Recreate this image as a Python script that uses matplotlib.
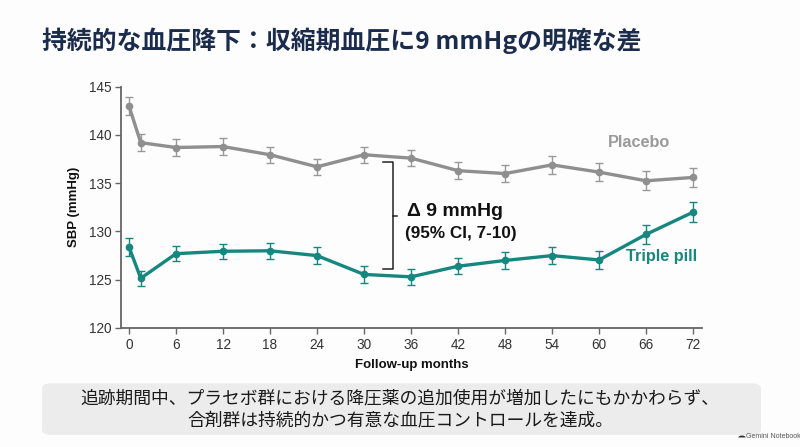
import matplotlib
matplotlib.use("Agg")
import matplotlib.pyplot as plt
from matplotlib.patches import FancyBboxPatch, Wedge

# ---- data ----
months = [0, 1.5, 6, 12, 18, 24, 30, 36, 42, 48, 54, 60, 66, 72]
xtick_vals = [0, 6, 12, 18, 24, 30, 36, 42, 48, 54, 60, 66, 72]
ytick_vals = [120, 125, 130, 135, 140, 145]
placebo = [143.0, 139.2, 138.7, 138.8, 137.95, 136.7, 137.95, 137.6, 136.3, 136.0, 136.9, 136.15, 135.25, 135.6]
placebo_err = [0.95, 0.85, 0.85, 0.9, 0.85, 0.85, 0.85, 0.85, 0.85, 0.85, 0.9, 0.9, 1.0, 1.0]
triple = [128.4, 125.15, 127.7, 127.95, 128.0, 127.5, 125.55, 125.3, 126.4, 127.0, 127.5, 127.05, 129.7, 132.0]
triple_err = [0.9, 0.8, 0.75, 0.8, 0.85, 0.85, 0.85, 0.85, 0.85, 0.85, 0.85, 0.9, 0.95, 1.05]
bracket_span = [137.2, 126.1]
bracket_x = 33.75

title = "持続的な血圧降下：収縮期血圧に9 mmHgの明確な差"
caption_lines = ["追跡期間中、プラセボ群における降圧薬の追加使用が増加したにもかかわらず、",
                 "合剤群は持続的かつ有意な血圧コントロールを達成。"]

GRAY = "#8f8f8f"
TEAL = "#15877f"
NAVY = "#1b2b4b"
LAT = ["Liberation Sans", "DejaVu Sans"]
CJK = ["Noto Sans CJK JP", "DejaVu Sans"]

fig = plt.figure(figsize=(8.0, 4.47), dpi=100)
fig.patch.set_facecolor("#fdfdfd")

ax = fig.add_axes([121/800, 1-328/447, (701.7-121)/800, (328-86.7)/447])
ax.set_facecolor("none")

ax.errorbar(months, placebo, yerr=placebo_err, color=GRAY, lw=2.4, marker="o", ms=4.5,
            ecolor="#999999", elinewidth=1.0, capsize=3, capthick=1.0, zorder=3)
ax.errorbar(months, triple, yerr=triple_err, color=TEAL, lw=2.4, marker="o", ms=4.5,
            ecolor=TEAL, elinewidth=1.0, capsize=3, capthick=1.0, zorder=3)

ax.set_xlim(-1.02, 73.1)
ax.set_ylim(120, 145)
ax.set_xticks(xtick_vals)
ax.set_yticks(ytick_vals)
for s in ["top", "right"]:
    ax.spines[s].set_visible(False)
for s in ["left", "bottom"]:
    ax.spines[s].set_color("#666666")
    ax.spines[s].set_linewidth(1.3)
ax.tick_params(axis="both", colors="#666666", length=4, width=1.0, labelsize=9.8,
               labelcolor="#333333", pad=3)
for lab in ax.get_xticklabels() + ax.get_yticklabels():
    lab.set_family(LAT)

ax.set_ylabel("SBP (mmHg)", family=LAT, fontsize=9.5, fontweight="bold", color="#111111", labelpad=6)
ax.set_xlabel("Follow-up months", family=LAT, fontsize=9.5, fontweight="bold", color="#111111", labelpad=5)

# bracket
top, bot = bracket_span
mid = (top + bot) / 2
ax.plot([bracket_x - 1.35, bracket_x, bracket_x, bracket_x - 1.35],
        [top, top, bot, bot], color="#222222", lw=1.1)
ax.plot([bracket_x, bracket_x + 0.4], [mid, mid], color="#222222", lw=1.1)
ax.text(bracket_x + 1.7, mid + 0.45, "Δ 9 mmHg", family=LAT, fontsize=14, fontweight="bold",
        color="#111111", va="center", ha="left")
ax.text(bracket_x + 1.5, mid - 1.85, "(95% CI, 7-10)", family=LAT, fontsize=12.3, fontweight="bold",
        color="#111111", va="center", ha="left")

ax.text(61.1, 139.25, "Placebo", family=LAT, fontsize=11.7, fontweight="bold", color="#9a9a9a",
        va="center", ha="left")
ax.text(63.5, 127.4, "Triple pill", family=LAT, fontsize=11.7, fontweight="bold", color=TEAL,
        va="center", ha="left")

# title
fig.text(42/800, 1-41/447, title, family=CJK, fontsize=17.9, fontweight="bold", color=NAVY,
         va="center", ha="left")

# caption box
box = FancyBboxPatch((42/800, 1-435/447), (761-42)/800, (435-383.3)/447,
                     boxstyle="round,pad=0,rounding_size=0.012", transform=fig.transFigure,
                     facecolor="#ececec", edgecolor="none")
fig.add_artist(box)
fig.text(0.5, 1-398/447, caption_lines[0], family=CJK, fontsize=12.8, color="#1a1a1a",
         va="center", ha="center")
fig.text(0.5, 1-420.5/447, caption_lines[1], family=CJK, fontsize=12.8, color="#1a1a1a",
         va="center", ha="center")

# watermark
fig.add_artist(Wedge((742/800, 1-437.5/447), 0.0045, 0, 180, transform=fig.transFigure,
                     facecolor="#333333", edgecolor="none"))
fig.text(746/800, 1-436.5/447, "Gemini Notebook", family=LAT, fontsize=5, color="#555555",
         va="center", ha="left")

fig.savefig("out.png", dpi=100, facecolor=fig.get_facecolor())
